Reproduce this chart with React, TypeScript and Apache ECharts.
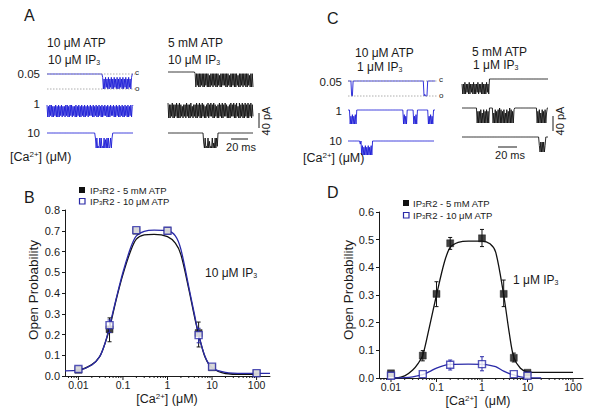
import React, { useEffect, useRef } from 'react';
import * as echarts from 'echarts';

const FONT = '"Liberation Sans", Arial, Helvetica, sans-serif';
const INK = '#1a1a1a';
const BLUE_TRACE = '#1c1cd6';
const BLUE = '#2a2aa8';

// ---------- Panel B data ----------
const B_X = [0.01, 0.05, 0.2, 1, 5, 10, 100];
const B_BLACK = [0.03, 0.225, 0.7, 0.7, 0.207, 0.042, 0.012];
const B_BLUE = [0.034, 0.245, 0.703, 0.7, 0.197, 0.045, 0.014];
const B_BLACK_ERR = [[0.05, 0.165, 0.28], [5, 0.14, 0.26]];
const B_BLUE_ERR = [[0.05, 0.21, 0.27], [5, 0.16, 0.23]];
const B_FIT_BLACK = [[0.0084, 0.03], [0.01, 0.03], [0.02, 0.055], [0.03, 0.093], [0.04, 0.16], [0.05, 0.23], [0.07, 0.365], [0.1, 0.49], [0.15, 0.605], [0.2, 0.66], [0.3, 0.68], [0.5, 0.683], [1, 0.672], [1.5, 0.64], [2, 0.585], [3, 0.42], [4, 0.29], [5, 0.2], [7, 0.09], [10, 0.04], [20, 0.012], [50, 0.008], [100, 0.008]];
const B_FIT_BLUE = [[0.005, 0.025], [0.01, 0.028], [0.02, 0.053], [0.03, 0.093], [0.04, 0.16], [0.05, 0.24], [0.07, 0.37], [0.1, 0.5], [0.15, 0.62], [0.2, 0.675], [0.3, 0.697], [0.5, 0.703], [1, 0.7], [1.5, 0.675], [2, 0.61], [3, 0.43], [4, 0.3], [5, 0.2], [7, 0.093], [10, 0.04], [20, 0.018], [50, 0.013], [100, 0.013], [200, 0.013]];

// ---------- Panel D data ----------
const D_BLACK_X = [0.01, 0.05, 0.1, 0.2, 1, 3, 5, 10];
const D_BLACK = [0.017, 0.081, 0.304, 0.487, 0.505, 0.304, 0.073, 0.019];
const D_BLUE_X = [0.01, 0.05, 0.2, 1, 5, 10];
const D_BLUE = [0.008, 0.014, 0.048, 0.05, 0.014, 0.008];
const D_BLACK_ERR = [[0.05, 0.062, 0.099], [0.1, 0.258, 0.348], [0.2, 0.465, 0.508], [1, 0.475, 0.537], [3, 0.258, 0.354], [5, 0.058, 0.09]];
const D_BLUE_ERR = [[0.2, 0.029, 0.065], [1, 0.026, 0.077]];
const D_FIT_BLACK = [[0.0122, 0.0], [0.02, 0.008], [0.03, 0.029], [0.04, 0.054], [0.05, 0.082], [0.07, 0.185], [0.1, 0.3], [0.15, 0.42], [0.2, 0.472], [0.3, 0.49], [0.5, 0.495], [1, 0.495], [1.5, 0.485], [2, 0.455], [3, 0.3], [4, 0.16], [5, 0.075], [7, 0.035], [10, 0.022], [20, 0.02], [50, 0.02], [100, 0.02]];
const D_FIT_BLUE = [[0.0122, 0.0], [0.02, 0.001], [0.03, 0.004], [0.05, 0.012], [0.07, 0.023], [0.1, 0.036], [0.15, 0.046], [0.2, 0.049], [0.5, 0.05], [1, 0.049], [1.5, 0.046], [2, 0.041], [3, 0.025], [4, 0.016], [5, 0.011], [7, 0.004], [10, 0.001], [20, 0.0]];

// ---------- axis ticks ----------
const LOG_MINOR_MULT = [2, 3, 4, 5, 6, 7, 8, 9];
const LOG_DECADES = [0.001, 0.01, 0.1, 1, 10, 100];

// ---------- single-channel traces (digit: 0 = closed … 9 = fully open; number = run of closed samples) ----------
const A_BLUE_005 = [77, '29392839293829392839293928392938293928392', 2];
const A_BLUE_1 = ['0919080919', '1809190918', '0918190809', '1908091819', '0918091908', '1909180918', '0819091809', '1908190918', '0819091908', '1809190819', '0918091908', '1909180910'];
const A_BLUE_10 = [67, '393989393989394939398393', 29];
const A_BLACK_005 = [38, '1918191918', '1919181919', '2918191819', '1918291918', '1819191829', '1918191918', '2919181918', '1919182919', '19'];
const A_BLACK_1 = ['0919180919', '1809190918', '2918190819', '1908291819', '0918091908', '1929180918', '0819091829', '1908190918', '0819291908', '1809190829', '0918091908', '1909180918'];
const A_BLACK_10 = [50, '69398939598939693938', 50];
const C_BLUE_005 = [5, '99', 97, '98999', 11];
const C_BLUE_1 = [3, '949394939', 64, '93949', 9, '94939', 15, '9493949', 3];
const C_BLUE_10 = [17, '2', 1, '939493949394939', 86];
const C_BLACK_005 = ['3939293839', '2938392939', '3829383929', '39392839', 82];
const C_BLACK_1 = [21, '92929193919291929', 5, '939192919091929193919290919291', 31, '92919391929193', 2];
const C_BLACK_10 = [107, '593939395', 4];

function expand(segs: (number | string)[]): number[][] {
  const out: number[] = [];
  segs.forEach((s) => {
    if (typeof s === 'number') {
      for (let i = 0; i < s; i++) out.push(0);
    } else {
      for (const ch of s) out.push(Number(ch) / 9);
    }
  });
  return out.map((v, i) => [i, v]);
}

const richFor = (size: number) => ({
  sub: { fontSize: Math.round(size * 0.62), fontFamily: FONT, fill: INK, verticalAlign: 'bottom', lineHeight: Math.round(size * 0.62) },
  sup: { fontSize: Math.round(size * 0.62), fontFamily: FONT, fill: INK, verticalAlign: 'top', lineHeight: Math.round(size * 0.62) },
});

function txt(x: number, y: number, text: string, size: number, align = 'left', rot = 0, fill = INK): any {
  return {
    type: 'text',
    x,
    y,
    rotation: rot,
    z: 20,
    style: {
      text,
      fill,
      fontSize: size,
      fontFamily: FONT,
      textAlign: align,
      verticalAlign: 'middle',
      rich: richFor(size),
    },
  };
}

function line(x1: number, y1: number, x2: number, y2: number, stroke = INK, w = 1, dash?: number[]): any {
  return { type: 'line', z: 20, shape: { x1, y1, x2, y2 }, style: { stroke, lineWidth: w, lineDash: dash } };
}

export default function App() {
  const ref = useRef<HTMLDivElement>(null);

  useEffect(() => {
    if (!ref.current) return;
    const chart = echarts.init(ref.current, undefined, { renderer: 'svg' });

    const grids: any[] = [];
    const xAxes: any[] = [];
    const yAxes: any[] = [];
    const series: any[] = [];

    const logFmt = (v: number) => {
      const l = Math.log10(v);
      if (Math.abs(l - Math.round(l)) > 0.01) return '';
      return String(Number(v.toPrecision(1)));
    };

    const addPlot = (left: number, top: number, width: number, height: number, xmin: number, xmax: number, ymax: number) => {
      const idx = grids.length;
      grids.push({ left, top, width, height, outerBoundsMode: 'none', containLabel: false });
      xAxes.push({
        type: 'log', logBase: 10, gridIndex: idx, min: xmin, max: xmax,
        axisLine: { show: true, lineStyle: { color: INK, width: 1 } },
        axisTick: { show: false },
        splitLine: { show: false },
        axisLabel: { formatter: logFmt, color: INK, fontSize: 10.5, fontFamily: FONT, margin: 3, showMinLabel: false, showMaxLabel: false },
      });
      yAxes.push({
        type: 'value', gridIndex: idx, min: 0, max: ymax, interval: 0.1,
        axisLine: { show: true, lineStyle: { color: INK, width: 1 } },
        axisTick: { show: true, length: 3, lineStyle: { color: INK } },
        splitLine: { show: false },
        axisLabel: { formatter: (v: number) => v.toFixed(1), color: INK, fontSize: 11, fontFamily: FONT, margin: 5 },
      });
      const ticks: number[][] = [];
      LOG_DECADES.forEach((d) => {
        if (d >= xmin && d <= xmax) ticks.push([d, 1]);
        LOG_MINOR_MULT.forEach((m) => {
          const v = d * m;
          if (v > xmin && v < xmax) ticks.push([v, 0]);
        });
      });
      series.push({
        type: 'custom', xAxisIndex: idx, yAxisIndex: idx, silent: true, clip: false, z: 5,
        data: ticks,
        renderItem: (_p: any, api: any) => {
          const pt = api.coord([api.value(0), 0]);
          const len = api.value(1) ? 4 : 2;
          return { type: 'line', shape: { x1: pt[0], y1: pt[1], x2: pt[0], y2: pt[1] + len }, style: { stroke: INK, lineWidth: 1 } };
        },
      });
      return idx;
    };

    const addFit = (idx: number, data: number[][], color: string, z: number) => {
      series.push({
        type: 'line', xAxisIndex: idx, yAxisIndex: idx, data, smooth: 0.3, symbol: 'none', silent: true, z,
        lineStyle: { color, width: 1.3 },
      });
    };
    const addErr = (idx: number, data: number[][], color: string, z: number) => {
      series.push({
        type: 'custom', xAxisIndex: idx, yAxisIndex: idx, silent: true, z, data,
        encode: { x: 0, y: [1, 2] },
        renderItem: (_p: any, api: any) => {
          const x = api.value(0);
          const a = api.coord([x, api.value(1)]);
          const b = api.coord([x, api.value(2)]);
          const w = 2;
          return {
            type: 'group',
            children: [
              { type: 'line', shape: { x1: a[0], y1: a[1], x2: b[0], y2: b[1] }, style: { stroke: color, lineWidth: 1 } },
              { type: 'line', shape: { x1: a[0] - w, y1: a[1], x2: a[0] + w, y2: a[1] }, style: { stroke: color, lineWidth: 1 } },
              { type: 'line', shape: { x1: b[0] - w, y1: b[1], x2: b[0] + w, y2: b[1] }, style: { stroke: color, lineWidth: 1 } },
            ],
          };
        },
      });
    };
    const addPts = (idx: number, xs: number[], ys: number[], filled: boolean, z: number) => {
      series.push({
        type: 'scatter', xAxisIndex: idx, yAxisIndex: idx, silent: true, z,
        symbol: 'rect', symbolSize: 7,
        data: xs.map((x, i) => [x, ys[i]]),
        itemStyle: filled ? { color: '#111', borderColor: '#111', borderWidth: 0.5 } : { color: '#ffffff', borderColor: BLUE, borderWidth: 1.4 },
      });
    };

    // Panel B
    const bi = addPlot(65, 210, 205, 166, 0.005, 200, 0.8);
    addFit(bi, B_FIT_BLACK, '#111', 6);
    addFit(bi, B_FIT_BLUE, BLUE, 7);
    addErr(bi, B_BLACK_ERR, '#111', 8);
    addPts(bi, B_X, B_BLACK, true, 9);
    addErr(bi, B_BLUE_ERR, BLUE, 10);
    addPts(bi, B_X, B_BLUE, false, 11);

    // Panel D
    const di = addPlot(379, 212, 204, 166, 0.00545, 166, 0.6);
    addFit(di, D_FIT_BLACK, '#111', 6);
    addFit(di, D_FIT_BLUE, BLUE, 7);
    addErr(di, D_BLACK_ERR, '#111', 8);
    addPts(di, D_BLACK_X, D_BLACK, true, 9);
    addErr(di, D_BLUE_ERR, BLUE, 10);
    addPts(di, D_BLUE_X, D_BLUE, false, 11);

    // Traces
    const traces: [any[], number, number, number, number, string][] = [
      [A_BLUE_005, 47, 74, 86, 15, BLUE_TRACE],
      [A_BLUE_1, 47, 105, 86, 12, BLUE_TRACE],
      [A_BLUE_10, 47, 133, 86, 15, BLUE_TRACE],
      [A_BLACK_005, 168, 72, 85, 15, '#111'],
      [A_BLACK_1, 168, 103, 85, 15, '#111'],
      [A_BLACK_10, 168, 133, 85, 15, '#111'],
      [C_BLUE_005, 348, 81, 87, 15, BLUE_TRACE],
      [C_BLUE_1, 348, 110, 87, 14, BLUE_TRACE],
      [C_BLUE_10, 348, 141, 86, 14, BLUE_TRACE],
      [C_BLACK_005, 462, 79, 86, 15, '#111'],
      [C_BLACK_1, 462, 108, 86, 15, '#111'],
      [C_BLACK_10, 462, 137, 86, 15, '#111'],
    ];
    traces.forEach(([segs, left, top, width, height, color]) => {
      const idx = grids.length;
      const data = expand(segs);
      grids.push({ left, top, width, height, outerBoundsMode: 'none', containLabel: false });
      xAxes.push({ type: 'value', gridIndex: idx, min: 0, max: data.length - 1, show: false });
      yAxes.push({ type: 'value', gridIndex: idx, min: 0, max: 1, inverse: true, show: false });
      series.push({
        type: 'line', xAxisIndex: idx, yAxisIndex: idx, data, symbol: 'none', silent: true, clip: false,
        lineStyle: { color, width: 0.9 },
      });
    });

    const graphics: any[] = [
      // Panel A
      txt(24, 15, 'A', 16),
      txt(47, 43, '10 μM ATP', 12),
      txt(48, 60, '10 μM IP{sub|3}', 12),
      txt(168, 43, '5 mM ATP', 12),
      txt(168, 60, '10 μM IP{sub|3}', 12),
      txt(40, 74, '0.05', 11.5, 'right'),
      txt(40, 104, '1', 11.5, 'right'),
      txt(40, 133, '10', 11.5, 'right'),
      txt(10, 157, '[Ca{sup|2+}] (μM)', 12.5),
      txt(135, 72, 'c', 8),
      txt(135, 88, 'o', 8),
      line(47, 74, 137, 74, '#999', 0.8, [1.5, 1.5]),
      line(47, 89, 137, 89, '#999', 0.8, [1.5, 1.5]),
      line(259, 113, 259, 128),
      line(231, 139, 248, 139),
      txt(266, 121, '40 pA', 11, 'center', Math.PI / 2),
      txt(241, 147, '20 ms', 11, 'center'),
      // Panel C
      txt(327, 18, 'C', 16),
      txt(355, 53, '10 μM ATP', 12),
      txt(357, 67, '1 μM IP{sub|3}', 12),
      txt(472, 52, '5 mM ATP', 12),
      txt(473, 65, '1 μM IP{sub|3}', 12),
      txt(342, 82, '0.05', 11.5, 'right'),
      txt(342, 111, '1', 11.5, 'right'),
      txt(342, 141, '10', 11.5, 'right'),
      txt(303, 158, '[Ca{sup|2+}] (μM)', 12.5),
      txt(439, 79, 'c', 8),
      txt(439, 95, 'o', 8),
      line(348, 81, 438, 81, '#999', 0.8, [1.5, 1.5]),
      line(348, 96, 438, 96, '#999', 0.8, [1.5, 1.5]),
      line(553, 116, 553, 131),
      line(498, 147, 517, 147),
      txt(560, 121, '40 pA', 11, 'center', Math.PI / 2),
      txt(510, 155, '20 ms', 11, 'center'),
      // Panel B
      txt(24, 197, 'B', 16),
      { type: 'rect', z: 20, shape: { x: 79, y: 187, width: 6, height: 6 }, style: { fill: '#111' } },
      txt(90, 190, 'IP{sub|3}R2 - 5 mM ATP', 9.5),
      { type: 'rect', z: 20, shape: { x: 79.5, y: 198.5, width: 5.5, height: 5.5 }, style: { fill: '#fff', stroke: BLUE, lineWidth: 1.2 } },
      txt(90, 201, 'IP{sub|3}R2 - 10 μM ATP', 9.5),
      txt(205, 273, '10 μM IP{sub|3}', 12),
      txt(33, 290, 'Open Probability', 13.5, 'center', Math.PI / 2),
      txt(167, 399, '[Ca{sup|2+}] (μM)', 12.5, 'center'),
      // Panel D
      txt(327, 192, 'D', 16),
      { type: 'rect', z: 20, shape: { x: 403, y: 200, width: 6, height: 6 }, style: { fill: '#111' } },
      txt(413, 203, 'IP{sub|3}R2 - 5 mM ATP', 9.5),
      { type: 'rect', z: 20, shape: { x: 403.5, y: 212.5, width: 5.5, height: 5.5 }, style: { fill: '#fff', stroke: BLUE, lineWidth: 1.2 } },
      txt(413, 215, 'IP{sub|3}R2 - 10 μM ATP', 9.5),
      txt(513, 280, '1 μM IP{sub|3}', 12),
      txt(348, 290, 'Open Probability', 13.5, 'center', Math.PI / 2),
      txt(478, 401, '[Ca{sup|2+}]  (μM)', 12.5, 'center'),
    ];

    chart.setOption({
      animation: false,
      backgroundColor: '#ffffff',
      textStyle: { fontFamily: FONT },
      grid: grids,
      xAxis: xAxes,
      yAxis: yAxes,
      series,
      graphic: { elements: graphics },
    });

    return () => chart.dispose();
  }, []);

  return <div ref={ref} style={{ position: 'absolute', left: 0, top: 0, width: 600, height: 419 }} />;
}
